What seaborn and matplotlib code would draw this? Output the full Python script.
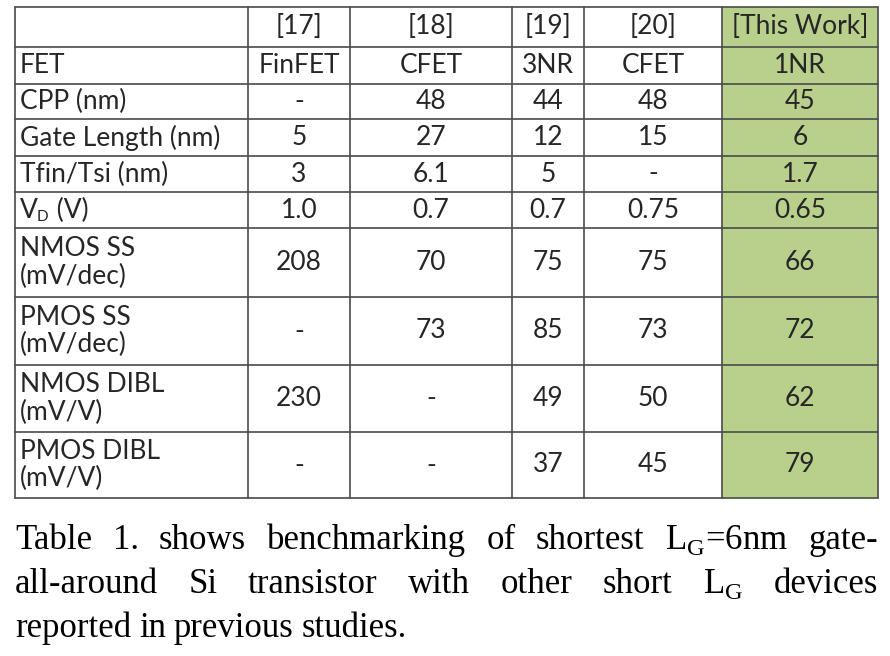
import numpy as np
import matplotlib
matplotlib.use("Agg")
import matplotlib.pyplot as plt
import seaborn as sns

# --- table data ---
col_heads = ["", "[17]", "[18]", "[19]", "[20]", "[This Work]"]
row_labels = ["FET", "CPP (nm)", "Gate Length (nm)", "Tfin/Tsi (nm)", "V|D (V)",
              "NMOS SS\n(mV/dec)", "PMOS SS\n(mV/dec)", "NMOS DIBL\n(mV/V)", "PMOS DIBL\n(mV/V)"]
ref17 = ["FinFET", "-", "5", "3", "1.0", "208", "-", "230", "-"]
ref18 = ["CFET", "48", "27", "6.1", "0.7", "70", "73", "-", "-"]
ref19 = ["3NR", "44", "12", "5", "0.7", "75", "85", "49", "37"]
ref20 = ["CFET", "48", "15", "-", "0.75", "75", "73", "50", "45"]
this_work = ["1NR", "45", "6", "1.7", "0.65", "66", "72", "62", "79"]
highlight = [0, 0, 0, 0, 0, 1]

caption_lines = [
    ["Table", "1.", "shows", "benchmarking", "of", "shortest", r"L$_\mathrm{G}$=6nm", "gate-"],
    ["all-around", "Si", "transistor", "with", "other", "short", r"L$_\mathrm{G}$", "devices"],
    ["reported", "in", "previous", "studies."],
]

# --- layout (pixels) ---
col_w = [233, 102, 162, 72, 138, 156]
row_h = [40, 37, 35, 37, 36, 36, 69, 68, 67, 66]
x0, y0 = 15, 7
W, H = sum(col_w), sum(row_h)
green = "#b8d08c"
line_c = "#4a4a4a"
txt_c = "#262626"

sns.set_theme(style="white")
plt.rcParams["mathtext.fontset"] = "custom"
plt.rcParams["mathtext.rm"] = "Liberation Serif"

fig = plt.figure(figsize=(8.9, 6.56), dpi=100)

# background fill via heatmap on a pixel grid
mask = np.repeat(np.array(highlight), col_w)[None, :].repeat(H, axis=0)
hax = fig.add_axes([x0 / 890, (656 - y0 - H) / 656, W / 890, H / 656])
sns.heatmap(mask, ax=hax, cmap=matplotlib.colors.ListedColormap(["white", green]),
            cbar=False, xticklabels=False, yticklabels=False, vmin=0, vmax=1)
hax.axis("off")

ax = fig.add_axes([0, 0, 1, 1])
ax.set_xlim(0, 890)
ax.set_ylim(656, 0)
ax.axis("off")
ax.patch.set_alpha(0)

xe = x0 + np.concatenate([[0], np.cumsum(col_w)])
ye = y0 + np.concatenate([[0], np.cumsum(row_h)])
for x in xe:
    ax.plot([x, x], [y0, y0 + H], color=line_c, lw=1.2)
for y in ye:
    ax.plot([x0, x0 + W], [y, y], color=line_c, lw=1.2)

font = dict(family="Lato", color=txt_c, fontsize=19)

for j, h in enumerate(col_heads):
    ax.text((xe[j] + xe[j + 1]) / 2, (ye[0] + ye[1]) / 2, h, ha="center", va="center", **font)

fig.canvas.draw()
r = fig.canvas.get_renderer()
cols = [ref17, ref18, ref19, ref20, this_work]
for i, lab in enumerate(row_labels):
    cy = (ye[i + 1] + ye[i + 2]) / 2
    if "|" in lab:
        base, rest = lab.split("|")
        t = ax.text(x0 + 5, cy, base, ha="left", va="center", **font)
        w = t.get_window_extent(renderer=r).width
        ax.text(x0 + 5 + w - 1, cy + 7, rest[0], ha="left", va="center",
                family="Lato", color=txt_c, fontsize=11)
        ax.text(x0 + 5 + w + 12, cy, rest[1:], ha="left", va="center", **font)
    else:
        ax.text(x0 + 5, cy, lab, ha="left", va="center", linespacing=1.1, **font)
    for j, c in enumerate(cols):
        ax.text((xe[j + 1] + xe[j + 2]) / 2, cy, c[i], ha="center", va="center", **font)

# caption, justified
cap_font = dict(family="Liberation Serif", color="black", fontsize=25)
for k, words in enumerate(caption_lines):
    yb = 549 + k * 44
    ts = [ax.text(0, yb, w, ha="left", va="baseline", **cap_font) for w in words]
    widths = [t.get_window_extent(renderer=r).width for t in ts]
    if k < len(caption_lines) - 1:
        gap = (W - sum(widths)) / (len(words) - 1)
    else:
        gap = 8
    x = x0
    for t, w in zip(ts, widths):
        t.set_x(x)
        x += w + gap

fig.savefig("out.png", dpi=100)
